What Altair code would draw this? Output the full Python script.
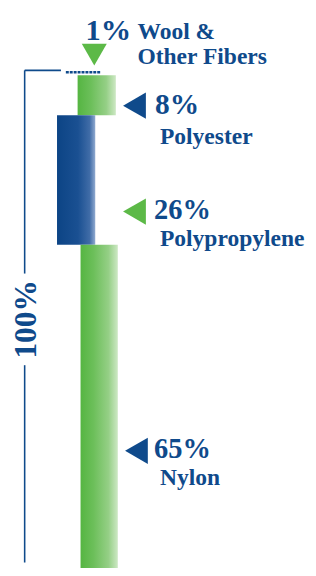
import altair as alt
import pandas as pd

# ---- data ----
categories = ["Wool & Other Fibers", "Polyester", "Polypropylene", "Nylon"]
shares = [1, 8, 26, 65]
pct_labels = ["1%", "8%", "26%", "65%"]
name_line1 = ["Wool &", "Polyester", "Polypropylene", "Nylon"]
name_line2 = ["Other Fibers", "", "", ""]
total_label = "100%"

# ---- style / layout ----
BLUE = "#0f4a8b"
GREEN = "#5cb947"
FONT = "Liberation Serif"

W, H = 306, 560
PX = 5.08          # pixels per percentage point
TOP = 58           # pixel where the stack starts
YMAX = (H - TOP) / PX
yscale = alt.Scale(domain=[-TOP / PX, YMAX], reverse=True, nice=False, zero=False)
xscale = alt.Scale(domain=[0, W], nice=False, zero=False)

starts, ends = [], []
acc = 0
for s in shares:
    starts.append(acc)
    acc += s
    ends.append(acc)

bar_x = {"Wool & Other Fibers": (59, 94), "Polyester": (71, 110),
         "Polypropylene": (50, 89), "Nylon": (74, 112)}
bar_fill = {"Polyester": "green", "Polypropylene": "blue", "Nylon": "green"}


def grad(kind):
    if kind == "green":
        stops = [("#55b542", 0), ("#6cbf5a", 0.35), ("#95cf86", 0.75), ("#cde8c4", 1)]
    else:
        stops = [("#0c4485", 0), ("#1a5092", 0.55), ("#406ca7", 0.85), ("#90aad0", 1)]
    return alt.LinearGradient(
        gradient="linear",
        stops=[alt.GradientStop(color=c, offset=o) for c, o in stops],
        x1=0, x2=1, y1=0, y2=0,
    )


seg = pd.DataFrame({
    "cat": categories, "start": starts, "end": ends,
    "x0": [bar_x[c][0] for c in categories],
    "x1": [bar_x[c][1] for c in categories],
})

layers = []
for c in categories:
    d = seg[seg.cat == c]
    if c == "Wool & Other Fibers":
        layers.append(
            alt.Chart(d).mark_rule(color=BLUE, strokeWidth=2.5, strokeDash=[3, 1], yOffset=2).encode(
                x=alt.X("x0:Q", scale=xscale, axis=None), x2="x1",
                y=alt.Y("start:Q", scale=yscale, axis=None))
        )
    else:
        layers.append(
            alt.Chart(d).mark_bar(color=grad(bar_fill[c])).encode(
                x=alt.X("x0:Q", scale=xscale, axis=None), x2="x1",
                y=alt.Y("start:Q", scale=yscale, axis=None), y2="end")
        )

# ---- bracket for 100% ----
total = sum(shares)
mid = total / 2
gap = 9.2
bracket = pd.DataFrame({
    "xa": [17, 17, 17], "xb": [54, 17, 17],
    "ya": [0, 0, mid + gap], "yb": [0, mid - gap, YMAX],
})
layers.append(
    alt.Chart(bracket).mark_rule(color=BLUE, strokeWidth=1.6).encode(
        x=alt.X("xa:Q", scale=xscale, axis=None), x2="xb",
        y=alt.Y("ya:Q", scale=yscale, axis=None), y2="yb")
)
layers.append(
    alt.Chart(pd.DataFrame({"t": [total_label], "x": [19], "y": [mid]})).mark_text(
        angle=270, align="center", baseline="middle", font=FONT, fontWeight="bold",
        fontSize=32, color=BLUE).encode(
        x=alt.X("x:Q", scale=xscale, axis=None),
        y=alt.Y("y:Q", scale=yscale, axis=None), text="t")
)

# ---- annotations (triangle pointers + labels) ----
tri = pd.DataFrame({
    "cat": categories,
    "x": [88, 129, 129, 131],
    "y": [-3.15, 7.1, 28.35, 76.4],
    "shape": ["triangle-down", "triangle-left", "triangle-left", "triangle-left"],
    "col": [GREEN, BLUE, GREEN, BLUE],
})
for _, r in tri.iterrows():
    layers.append(
        alt.Chart(pd.DataFrame([r])).mark_point(
            shape=r["shape"], filled=True, opacity=1, size=650 if r["shape"] == "triangle-down" else 720,
            color=r["col"], strokeWidth=0).encode(
            x=alt.X("x:Q", scale=xscale, axis=None),
            y=alt.Y("y:Q", scale=yscale, axis=None))
    )

pct = pd.DataFrame({
    "t": pct_labels,
    "x": [79, 150, 149, 149],
    "y": [-6.1, 8.86, 29.9, 77.75],
    "fs": [31, 30, 29, 29],
})
name1 = pd.DataFrame({
    "t": name_line1,
    "x": [132, 155, 155, 155],
    "y": [-6.3, 14.77, 35.2, 83.3],
})
name2 = pd.DataFrame({"t": [n for n in name_line2 if n], "x": [132], "y": [-1.37]})

for _, r in pct.iterrows():
    layers.append(
        alt.Chart(pd.DataFrame([r])).mark_text(
            align="left", baseline="alphabetic", font=FONT, fontWeight="bold",
            fontSize=int(r["fs"]), color=BLUE).encode(
            x=alt.X("x:Q", scale=xscale, axis=None),
            y=alt.Y("y:Q", scale=yscale, axis=None), text="t")
    )
for df in (name1, name2):
    layers.append(
        alt.Chart(df).mark_text(
            align="left", baseline="alphabetic", font=FONT, fontWeight="bold",
            fontSize=24, color=BLUE).encode(
            x=alt.X("x:Q", scale=xscale, axis=None),
            y=alt.Y("y:Q", scale=yscale, axis=None), text="t")
    )

chart = alt.layer(*layers).properties(
    width=W, height=H, padding=0,
    autosize=alt.AutoSizeParams(type="none"),
).configure_view(stroke=None)

chart.save("out.html", embed_options={"renderer": "svg", "actions": False})
